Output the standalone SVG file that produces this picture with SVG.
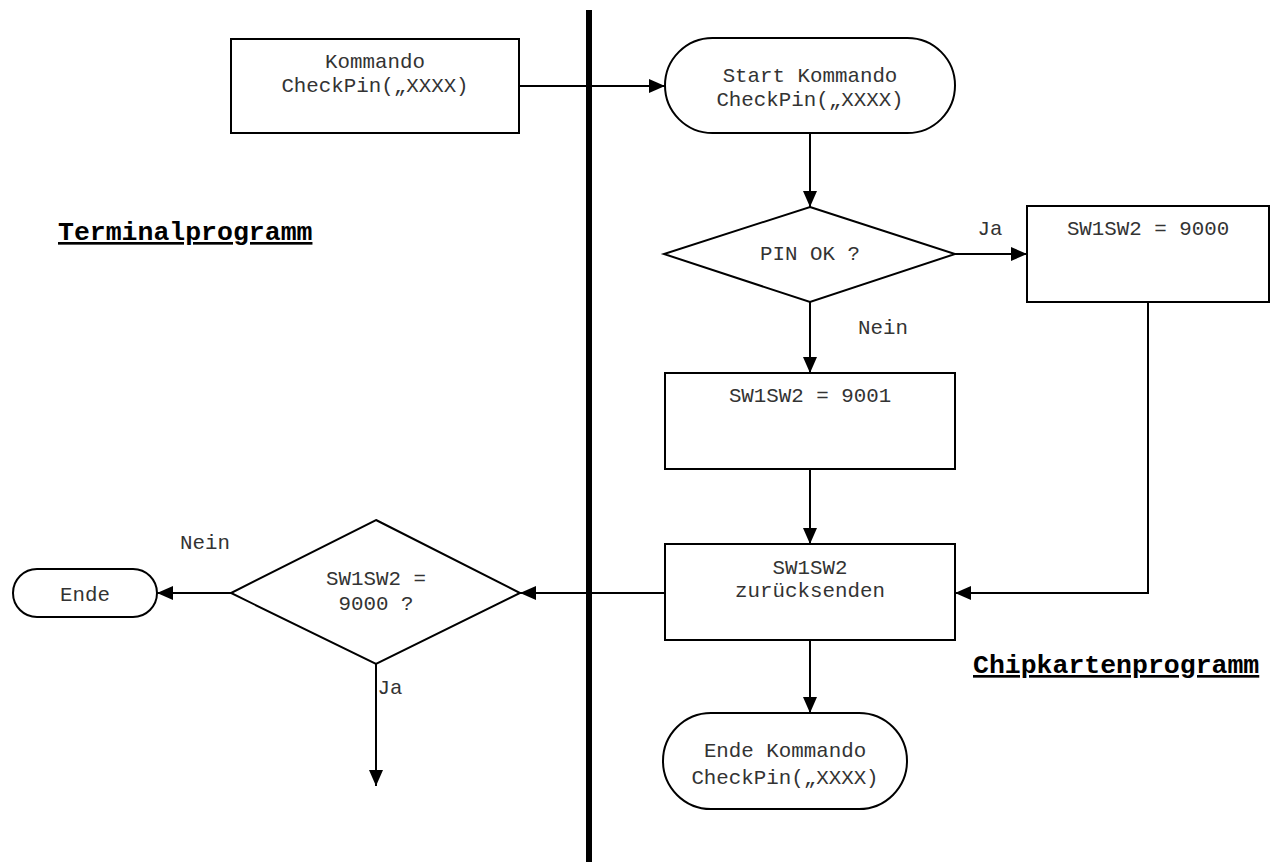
<svg xmlns="http://www.w3.org/2000/svg" width="1279" height="862" viewBox="0 0 1279 862">
<style>
.s{fill:#fff;stroke:#000;stroke-width:2}
.t{font-family:"Liberation Mono","Courier New",monospace;font-size:20.8px;fill:#333;text-anchor:middle}
.h{font-family:"Liberation Mono","Courier New",monospace;font-size:26.5px;font-weight:bold;fill:#000;text-decoration:underline}
.c{fill:none;stroke:#000;stroke-width:2}
</style>
<defs>
<marker id="a" viewBox="0 0 16 14" refX="16" refY="7" markerWidth="16" markerHeight="14" markerUnits="userSpaceOnUse" orient="auto">
<path d="M0,0 L16,7 L0,14 Z" fill="#000"/>
</marker>
</defs>
<rect x="0" y="0" width="1279" height="862" fill="#fff"/>
<g id="lanes">
<rect x="586" y="10" width="6" height="852" fill="#000"/>
<text class="h" x="58" y="240">Terminalprogramm</text>
<text class="h" x="973" y="673">Chipkartenprogramm</text>
</g>
<g id="connectors">
<path class="c" d="M519,86 H665" marker-end="url(#a)"/>
<path class="c" d="M810,133 V207" marker-end="url(#a)"/>
<path class="c" d="M955,254 H1027" marker-end="url(#a)"/>
<path class="c" d="M810,302 V373" marker-end="url(#a)"/>
<path class="c" d="M810,469 V544" marker-end="url(#a)"/>
<path class="c" d="M1148,302 V593 H955" marker-end="url(#a)"/>
<path class="c" d="M810,640 V713" marker-end="url(#a)"/>
<path class="c" d="M665,593 H520" marker-end="url(#a)"/>
<path class="c" d="M231,593 H157" marker-end="url(#a)"/>
<path class="c" d="M376,664 V786" marker-end="url(#a)"/>
<text class="t" x="990" y="235">Ja</text>
<text class="t" x="883" y="334">Nein</text>
<text class="t" x="205" y="549">Nein</text>
<text class="t" x="390" y="694">Ja</text>
</g>
<g id="n1"><rect class="s" x="231" y="39" width="288" height="94"/>
<text class="t" x="375" y="68">Kommando</text><text class="t" x="375" y="92">CheckPin(„XXXX)</text></g>
<g id="n2"><rect class="s" x="665" y="38" width="290" height="95" rx="47.5"/>
<text class="t" x="810" y="82">Start Kommando</text><text class="t" x="810" y="106">CheckPin(„XXXX)</text></g>
<g id="n3"><polygon class="s" points="810,207 955,254 810,302 664,254"/>
<text class="t" x="810" y="260">PIN OK ?</text></g>
<g id="n4"><rect class="s" x="1027" y="206" width="242" height="96"/>
<text class="t" x="1148" y="235">SW1SW2 = 9000</text></g>
<g id="n5"><rect class="s" x="665" y="373" width="290" height="96"/>
<text class="t" x="810" y="402">SW1SW2 = 9001</text></g>
<g id="n6"><rect class="s" x="665" y="544" width="290" height="96"/>
<text class="t" x="810" y="574">SW1SW2</text><text class="t" x="810" y="597">zurücksenden</text></g>
<g id="n7"><rect class="s" x="663" y="713" width="244" height="96" rx="48"/>
<text class="t" x="785" y="757">Ende Kommando</text><text class="t" x="785" y="784">CheckPin(„XXXX)</text></g>
<g id="n8"><polygon class="s" points="376,520 520,593 376,664 231,593"/>
<text class="t" x="376" y="585">SW1SW2 =</text><text class="t" x="376" y="610">9000 ?</text></g>
<g id="n9"><rect class="s" x="13" y="569" width="144" height="48" rx="24"/>
<text class="t" x="85" y="601">Ende</text></g>
</svg>
